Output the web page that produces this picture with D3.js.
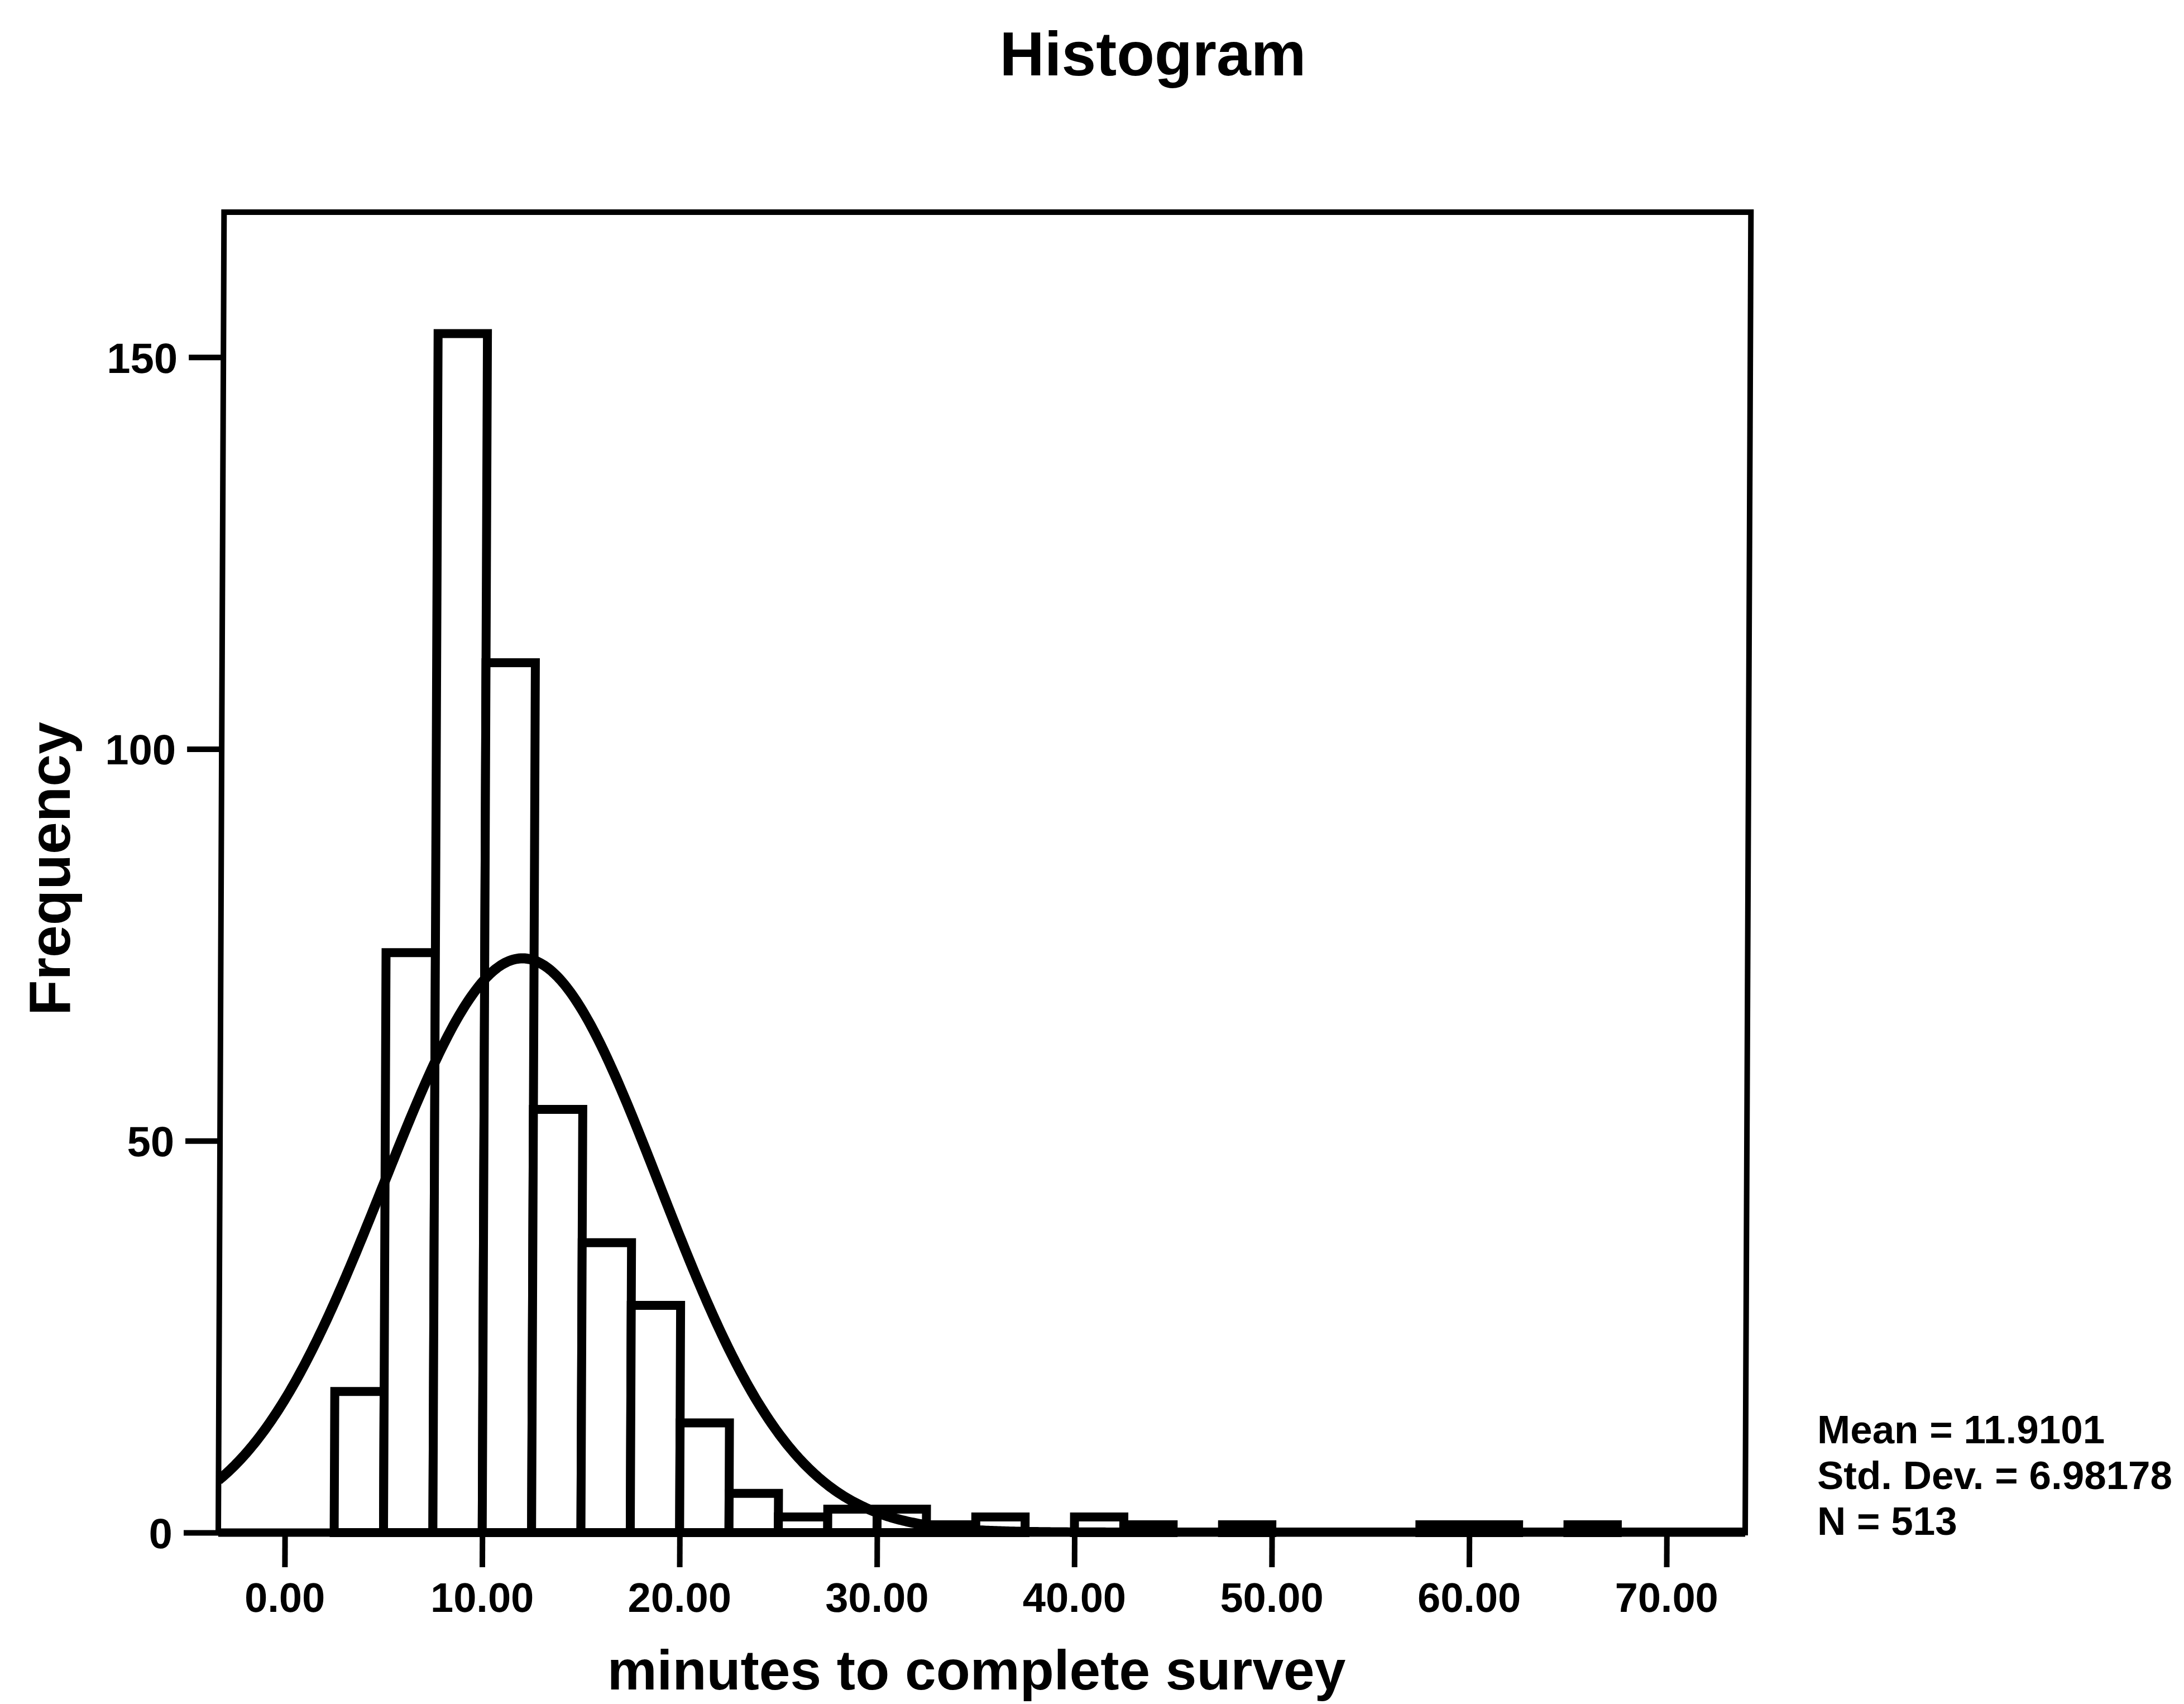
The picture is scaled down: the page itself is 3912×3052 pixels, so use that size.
<!DOCTYPE html>
<html>
<head>
<meta charset="utf-8">
<script src="https://cdn.jsdelivr.net/npm/d3@7"></script>
<style>
  body { margin: 0; background: #fff; }
  svg { display: block; }
  text { font-family: "Liberation Sans", Arial, sans-serif; font-weight: bold; fill: #000; }
</style>
</head>
<body>
<div id="chart"></div>
<script>
// histogram bins (lower edge, bin width 2.5) and their frequencies
const binWidth = 2.5;
const binLower = [2.5, 5, 7.5, 10, 12.5, 15, 17.5, 20, 22.5, 25, 27.5, 30, 32.5,
                  35, 37.5, 40, 42.5, 45, 47.5, 50, 52.5, 55, 57.5, 60, 62.5, 65];
const counts   = [18, 74, 153, 111, 54, 37, 29, 14, 5, 2, 3, 3, 1,
                  2, 0, 2, 1, 0, 1, 0, 0, 0, 1, 1, 0, 1];

// axis ticks
const xTicks = [0, 10, 20, 30, 40, 50, 60, 70];
const yTicks = [0, 50, 100, 150];

// summary statistics printed beside the chart
const mean = 11.9101;
const stdDev = 6.98178;
const n = 513;
const statLines = ["Mean = 11.9101", "Std. Dev. = 6.98178", "N = 513"];

const width = 3912, height = 3052;
const plot = { left: 391, right: 3126, top: 380, bottom: 2745 };

const svg = d3.select('#chart')
    .append('svg')
    .attr('width', width)
    .attr('height', height);

// scales
const x = d3.scaleLinear().domain([-3.37, 73.98]).range([plot.left, plot.right]);
const y = d3.scaleLinear().domain([0, 168.5]).range([plot.bottom, plot.top]);

svg.append('defs').append('clipPath').attr('id', 'plot-clip')
    .append('rect')
    .attr('x', plot.left).attr('y', plot.top)
    .attr('width', plot.right - plot.left).attr('height', plot.bottom - plot.top);

// the scanned original leans a little to the right at the top
const g = svg.append('g')
    .attr('transform', `translate(0,${plot.bottom}) skewX(-0.25) translate(0,${-plot.bottom})`);

// plot background
g.append('rect')
    .attr('x', plot.left).attr('y', plot.top)
    .attr('width', plot.right - plot.left).attr('height', plot.bottom - plot.top)
    .attr('fill', '#fff');

// bars
const bins = binLower.map((lo, i) => ({ lo: lo, count: counts[i] })).filter(d => d.count > 0);
g.append('g')
    .selectAll('rect')
    .data(bins)
    .enter()
    .append('rect')
    .attr('x', d => x(d.lo))
    .attr('width', d => x(d.lo + binWidth) - x(d.lo))
    .attr('y', d => y(d.count))
    .attr('height', d => y(0) - y(d.count))
    .attr('fill', '#fff')
    .attr('stroke', '#000')
    .attr('stroke-width', 16);

// normal curve from the printed mean / sd, scaled to frequencies
const curvePts = d3.range(x.domain()[0], x.domain()[1] + 0.05, 0.1).map(v => {
    const z = (v - mean) / stdDev;
    return [v, n * binWidth * Math.exp(-0.5 * z * z) / (stdDev * Math.sqrt(2 * Math.PI))];
});
g.append('path')
    .datum(curvePts)
    .attr('clip-path', 'url(#plot-clip)')
    .attr('fill', 'none')
    .attr('stroke', '#000')
    .attr('stroke-width', 18)
    .attr('d', d3.line().x(d => x(d[0])).y(d => y(d[1])));

// frame
g.append('rect')
    .attr('x', plot.left).attr('y', plot.top)
    .attr('width', plot.right - plot.left).attr('height', plot.bottom - plot.top)
    .attr('fill', 'none')
    .attr('stroke', '#000')
    .attr('stroke-width', 10);
g.append('line')
    .attr('x1', plot.left).attr('x2', plot.right)
    .attr('y1', plot.bottom).attr('y2', plot.bottom)
    .attr('stroke', '#000').attr('stroke-width', 15);

// x axis
const xAxis = g.append('g')
    .attr('transform', `translate(0,${plot.bottom})`)
    .call(d3.axisBottom(x).tickValues(xTicks).tickFormat(d3.format('.2f')).tickSize(62).tickSizeOuter(0));
xAxis.select('.domain').remove();
xAxis.selectAll('line').attr('stroke', '#000').attr('stroke-width', 10);
xAxis.selectAll('text')
    .attr('y', 142).attr('dy', 0)
    .style('font-family', '"Liberation Sans", Arial, sans-serif')
    .style('font-weight', 'bold')
    .style('font-size', '74px');

// y axis
const yAxis = g.append('g')
    .attr('transform', `translate(${plot.left},0)`)
    .call(d3.axisLeft(y).tickValues(yTicks).tickSize(62).tickSizeOuter(0));
yAxis.select('.domain').remove();
yAxis.selectAll('line').attr('stroke', '#000').attr('stroke-width', 10);
yAxis.selectAll('text')
    .attr('x', -82).attr('dy', '0.36em')
    .style('font-family', '"Liberation Sans", Arial, sans-serif')
    .style('font-weight', 'bold')
    .style('font-size', '76px');

// titles
svg.append('text')
    .attr('x', 2065).attr('y', 135)
    .attr('text-anchor', 'middle')
    .style('font-size', '111px')
    .text('Histogram');

svg.append('text')
    .attr('transform', 'translate(125,1556) rotate(-90)')
    .attr('text-anchor', 'middle')
    .style('font-size', '104px')
    .text('Frequency');

svg.append('text')
    .attr('x', 1749).attr('y', 3026)
    .attr('text-anchor', 'middle')
    .style('font-size', '100px')
    .text('minutes to complete survey');

// statistics block
svg.append('g')
    .selectAll('text')
    .data(statLines)
    .enter()
    .append('text')
    .attr('x', 3255)
    .attr('y', (d, i) => 2585 + i * 82)
    .style('font-size', '71px')
    .text(d => d);
</script>
</body>
</html>
